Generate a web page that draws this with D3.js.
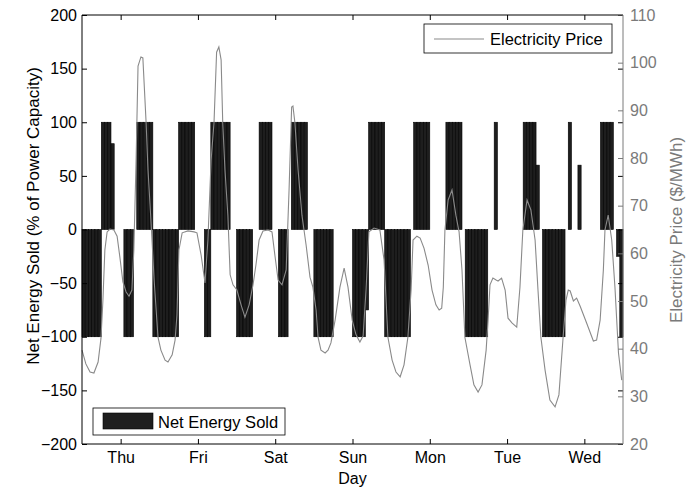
<!DOCTYPE html>
<html><head><meta charset="utf-8">
<script src="https://cdn.jsdelivr.net/npm/d3@7"></script>
<style>
body{margin:0;background:#fff}
svg{display:block}
text{font-family:"Liberation Sans",Arial,Helvetica,sans-serif}
</style>
</head><body>
<svg id="chart" width="686" height="488"></svg>
<script>
// ---- data ----
const dayLabels = ["Thu","Fri","Sat","Sun","Mon","Tue","Wed"];
const dayTickHours = [12,36,60,84,108,132,156];
const leftTicks = [-200,-150,-100,-50,0,50,100,150,200];
const rightTicks = [20,30,40,50,60,70,80,90,100,110];

// hourly net energy sold (% of power capacity), 168 hours
const netEnergy = [
  -100,-100,-100,-100,-100,-100,100,100,100,80,0,0,0,-100,-100,-100,0,100,100,100,100,100,-100,-100,
  -100,-100,-100,-100,-100,-100,100,100,100,100,100,0,0,0,-100,-100,100,100,100,100,100,100,0,0,
  -100,-100,-100,-100,-100,0,0,100,100,100,100,0,0,-100,-100,-100,0,100,100,100,100,100,0,0,
  -100,-100,-100,-100,-100,-100,0,0,0,0,0,0,-100,-100,-100,-100,-75,100,100,100,100,100,-100,-100,
  -100,-100,-100,-100,-100,-100,0,100,100,100,100,100,0,0,0,0,0,100,100,100,100,100,0,-100,
  -100,-100,-100,-100,-100,-100,0,0,100,0,0,0,0,0,0,0,0,100,100,100,100,60,0,-100,
  -100,-100,-100,-100,-100,-100,0,100,0,0,60,0,0,0,0,0,0,100,100,100,100,0,-25,-100
];

// electricity price ($/MWh) traced at these hours
const priceHours = [
  0,1.2,2.5,3.7,5,5.9,6.5,7.1,7.8,8.7,9.9,10.9,11.8,12.7,13.7,14.6,15.5,16.1,16.8,17.4,18.3,18.9,19.9,20.5,21.4,22.4,
  23.6,24.5,25.8,26.7,28,28.9,29.5,30.1,31.1,32.9,34.8,35.7,37,38.2,39.1,40.1,41,41.8,42.5,43.2,43.7,44.4,45.3,46,
  46.9,48.1,49.4,50.6,51.9,53.1,54,55,56.2,57.8,59,59.9,60.9,62.1,63.4,64.3,65.1,65.5,66.1,67.1,68.3,69.6,70.8,71.7,
  72.7,73.3,74.2,75.5,76.4,77.3,78.6,80.1,81.4,82.6,83.9,85.1,86.3,87.3,88.2,89.1,90.7,92.5,93.8,95,96.3,97.5,98.8,
  100,101.2,102.2,102.8,104,105,106.2,107.5,108.7,109.9,110.9,111.7,112.2,112.7,113.7,114.9,116.1,117.1,118,118.9,
  120.5,121.7,123,124.2,125.5,126.1,126.7,127.6,128.6,129.2,130.3,131.4,132.3,133.5,135,136,136.9,138.2,139.4,140.7,
  141.6,142.5,143.8,145.3,146.9,148.1,149.4,150.3,151,151.6,152.6,153.6,154.7,156.7,158.8,159.8,160.9,161.9,162.4,
  163.4,164.5,165.5,166.6,167.6
];
const prices = [
  39.7,36.8,35.1,34.9,37.2,42.2,50.2,60.7,64.5,65.1,64.9,63.6,59.0,54.0,51.9,51.0,52.3,60.7,79.6,99.3,101.2,101.0,87.5,77.5,67.0,54.4,
  42.4,39.7,37.6,37.2,38.7,41.8,47.1,60.7,64.3,64.7,64.5,64.3,59.6,53.8,62.8,79.6,87.5,102.2,103.3,100.6,87.5,77.5,68.0,55.5,
  53.4,52.3,49.2,46.6,49.2,53.4,57.5,62.8,64.7,64.9,64.5,59.6,54.4,53.4,56.5,73.3,90.7,90.9,87.5,77.5,68.0,61.7,55.0,52.9,
  48.1,42.4,39.7,39.1,39.7,41.2,46.0,52.9,56.9,52.9,46.0,42.9,41.4,42.7,52.3,64.5,65.3,64.9,58.6,42.4,37.6,35.1,34.1,
  36.6,42.4,52.3,62.8,63.6,63.2,61.1,57.5,52.3,49.2,48.1,48.5,52.9,64.9,71.2,73.3,68.0,64.5,56.5,42.4,
  36.6,32.4,30.9,32.4,39.7,46.0,53.4,54.8,54.4,54.2,54.8,52.3,46.4,45.4,44.5,52.9,64.9,71.2,69.1,62.8,
  52.3,42.4,35.5,29.2,27.8,30.3,42.4,50.2,52.3,52.1,50.0,50.6,48.9,45.4,41.6,41.8,46.0,56.5,64.9,
  68.0,62.8,52.9,39.1,33.4
];

// ---- layout ----
const svg = d3.select("#chart");
const L = 82, R = 623, T = 15, B = 444;
const x = d3.scaleLinear().domain([0, 168]).range([L, R]);
const yL = d3.scaleLinear().domain([-200, 200]).range([B, T]);
const yR = d3.scaleLinear().domain([20, 110]).range([B, T]);
const FS = 16;
const gray = "#7a7a7a";

// bars
svg.append("g").selectAll("rect")
  .data(netEnergy.map((v, i) => ({h: i, v})).filter(d => d.v !== 0))
  .join("rect")
  .attr("x", d => x(d.h))
  .attr("width", d => x(d.h + 1) - x(d.h))
  .attr("y", d => yL(Math.max(0, d.v)))
  .attr("height", d => Math.abs(yL(d.v) - yL(0)))
  .attr("fill", "#1e1e1e")
  .attr("stroke", "#000")
  .attr("stroke-width", 0.6);

// price line
svg.append("path")
  .datum(priceHours.map((h, i) => [h, prices[i]]))
  .attr("fill", "none")
  .attr("stroke", "#8a8a8a")
  .attr("stroke-width", 1.1)
  .attr("d", d3.line().x(d => x(d[0])).y(d => yR(d[1])));

// axes
const styleAxis = (g, color) => {
  g.select(".domain").remove();
  g.selectAll("line").attr("stroke", color);
  g.selectAll("text").attr("fill", color).style("font-size", FS + "px");
};

svg.append("g").attr("transform", `translate(${L},0)`)
  .call(d3.axisLeft(yL).tickValues(leftTicks).tickSizeInner(-5).tickSizeOuter(0).tickPadding(5))
  .call(g => styleAxis(g, "#000"));

// mirrored left ticks on right side
svg.append("g").attr("transform", `translate(${R},0)`)
  .call(d3.axisRight(yL).tickValues(leftTicks).tickSizeInner(-5).tickSizeOuter(0).tickFormat(""))
  .call(g => styleAxis(g, "#000"));

svg.append("g").attr("transform", `translate(${R},0)`)
  .call(d3.axisRight(yR).tickValues(rightTicks).tickSizeInner(-5).tickSizeOuter(0).tickPadding(7))
  .call(g => styleAxis(g, gray));

svg.append("g").attr("transform", `translate(0,${B})`)
  .call(d3.axisBottom(x).tickValues(dayTickHours).tickFormat((d, i) => dayLabels[i]).tickSizeInner(-5).tickSizeOuter(0).tickPadding(8))
  .call(g => styleAxis(g, "#000"));

svg.append("g").attr("transform", `translate(0,${T})`)
  .call(d3.axisTop(x).tickValues(dayTickHours).tickFormat("").tickSizeInner(-5).tickSizeOuter(0))
  .call(g => styleAxis(g, "#000"));

// frame
svg.append("path").attr("d", `M${R},${T}H${L}V${B}H${R}`).attr("fill", "none").attr("stroke", "#000").attr("stroke-width", 1);
svg.append("line").attr("x1", R).attr("x2", R).attr("y1", T).attr("y2", B).attr("stroke", gray).attr("stroke-width", 1);

// axis titles
svg.append("text").attr("transform", `translate(33,216) rotate(-90)`)
  .attr("text-anchor", "middle").attr("dominant-baseline", "central")
  .style("font-size", "17px").text("Net Energy Sold (% of Power Capacity)");
svg.append("text").attr("transform", `translate(676,230) rotate(-90)`)
  .attr("text-anchor", "middle").attr("dominant-baseline", "central")
  .attr("fill", gray).style("font-size", "17px").text("Electricity Price ($/MWh)");
svg.append("text").attr("x", (L + R) / 2).attr("y", 484)
  .attr("text-anchor", "middle").style("font-size", FS + "px").text("Day");

// legend: price
const lg1 = svg.append("g");
lg1.append("rect").attr("x", 424).attr("y", 24).attr("width", 188).attr("height", 29)
  .attr("fill", "#fff").attr("stroke", "#000").attr("stroke-width", 0.8);
lg1.append("line").attr("x1", 434).attr("x2", 484).attr("y1", 39).attr("y2", 39)
  .attr("stroke", "#8a8a8a").attr("stroke-width", 1.1);
lg1.append("text").attr("x", 490).attr("y", 39).attr("dominant-baseline", "central")
  .style("font-size", "16.5px").text("Electricity Price");

// legend: net energy
const lg2 = svg.append("g");
lg2.append("rect").attr("x", 93).attr("y", 408).attr("width", 192).attr("height", 27)
  .attr("fill", "#fff").attr("stroke", "#000").attr("stroke-width", 0.8);
lg2.append("rect").attr("x", 103).attr("y", 413).attr("width", 50).attr("height", 16)
  .attr("fill", "#1e1e1e").attr("stroke", "#000").attr("stroke-width", 0.6);
lg2.append("text").attr("x", 158).attr("y", 421.5).attr("dominant-baseline", "central")
  .style("font-size", "16.5px").text("Net Energy Sold");
</script>
</body></html>
